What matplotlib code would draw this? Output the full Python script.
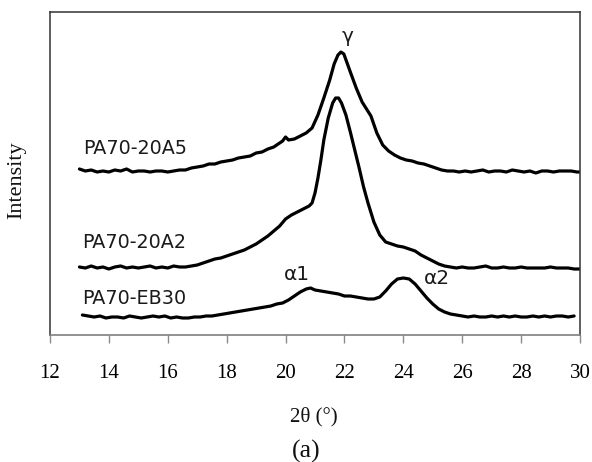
import matplotlib
matplotlib.use("Agg")
import matplotlib.pyplot as plt

# ---- data ----
x_a5 = [13.0,13.2,13.4,13.6,13.8,14.0,14.2,14.4,14.6,14.8,15.0,15.2,15.4,15.6,15.8,16.0,16.2,16.4,16.6,16.8,
        17.0,17.2,17.4,17.6,17.8,18.0,18.2,18.4,18.6,18.8,19.0,19.2,19.4,19.6,19.8,
        19.9,20.0,20.1,
        20.3,20.5,20.7,20.9,21.1,21.3,21.5,21.65,
        21.78,21.88,21.98,
        22.2,22.4,22.6,22.75,22.9,
        23.1,23.3,23.5,23.7,23.9,24.1,24.3,24.5,24.7,24.9,25.1,25.3,25.5,25.7,25.9,26.1,26.3,26.5,26.7,26.9,
        27.1,27.3,27.5,27.7,27.9,28.1,28.3,28.5,28.7,28.9,29.1,29.3,29.5,29.7,29.9,30.0]
y_a5 = [166,164,165,163,164,163,165,164,166,163,164,164,163,164,164,163,164,165,165,167,
        168,169,171,171,173,174,175,177,178,179,182,183,186,188,192,
        194,198,195,
        196,199,202,207,220,237,255,271,
        280,283,281,
        263,247,233,226,219,
        202,190,184,180,177,175,174,172,171,169,167,165,164,164,163,164,163,164,165,163,
        164,164,163,165,164,163,164,162,164,164,163,164,164,164,163,163]

x_a2 = [13.0,13.2,13.4,13.6,13.8,14.0,14.2,14.4,14.6,14.8,15.0,15.2,15.4,15.6,15.8,16.0,16.2,16.4,16.6,16.8,
        17.0,17.2,17.4,17.6,17.8,18.0,18.2,18.4,18.6,18.8,19.0,19.2,19.4,19.6,19.8,20.0,20.2,20.4,20.6,
        20.8,20.9,21.0,21.1,21.2,21.3,21.45,21.6,21.7,21.8,21.9,22.05,22.2,22.35,22.5,22.65,22.8,
        23.0,23.2,23.4,23.6,23.8,24.0,24.2,24.4,24.6,24.8,25.0,25.2,25.4,25.6,
        25.8,26.0,26.2,26.4,26.6,26.8,27.0,27.2,27.4,27.6,27.8,28.0,28.2,28.4,28.6,28.8,29.0,29.2,29.4,29.6,29.8,30.0]
y_a2 = [68,67,69,67,68,66,68,69,67,68,67,68,69,67,68,67,69,68,68,69,
        70,72,74,76,77,79,81,83,85,88,91,95,99,104,109,116,120,123,126,
        129,132,142,157,175,195,217,232,237,237,232,220,203,185,167,148,132,
        113,100,93,91,89,88,86,84,80,77,74,71,69,68,
        67,68,67,67,68,69,67,67,68,67,67,68,67,67,67,67,68,67,67,67,66,66]

x_eb = [13.1,13.3,13.5,13.7,13.9,14.1,14.3,14.5,14.7,14.9,15.1,15.3,15.5,15.7,15.9,16.1,16.3,16.5,16.7,16.9,
        17.1,17.3,17.5,17.7,17.9,
        18.1,18.3,18.5,18.7,18.9,19.1,19.3,19.5,19.7,19.9,20.1,20.3,20.5,20.7,20.85,
        21.0,21.2,21.4,21.6,21.8,22.0,22.2,22.4,22.6,22.8,23.0,23.2,23.4,23.6,23.8,24.0,24.2,24.4,24.6,24.8,
        25.0,25.2,25.4,25.6,25.8,
        26.0,26.2,26.4,26.6,26.8,27.0,27.2,27.4,27.6,27.8,28.0,28.2,28.4,28.6,28.8,29.0,29.2,29.4,29.6,29.8]
y_eb = [20,19,18,19,17,18,18,17,19,18,17,18,19,18,19,17,18,17,17,18,
        18,19,19,20,21,
        22,23,24,25,26,27,28,29,31,32,35,39,43,46,47,
        45,44,43,42,41,39,39,38,37,36,36,38,44,51,56,57,56,51,44,37,
        31,26,23,21,20,
        19,18,19,18,18,19,18,19,18,19,18,18,19,18,19,18,19,19,18,19]

series_labels = ["PA70-20A5", "PA70-20A2", "PA70-EB30"]
peak_labels = ["\u03b3", "\u03b11", "\u03b12"]
x_ticks = [12, 14, 16, 18, 20, 22, 24, 26, 28, 30]

# ---- figure ----
fig = plt.figure(figsize=(5.92, 4.62), dpi=100)
ax = fig.add_axes([50/592, 1 - 335/462, 530/592, 323/462])

lw = 2.3
for xs, ys in [(x_a5, y_a5), (x_a2, y_a2), (x_eb, y_eb)]:
    ax.plot(xs, ys, color="black", lw=lw, solid_joinstyle="round", solid_capstyle="round")

ax.set_xlim(12, 30)
ax.set_ylim(0, 323)
ax.set_xticks(x_ticks)
ax.set_xticklabels([str(t) for t in x_ticks])
ax.set_yticks([])

for side in ["left", "top", "right"]:
    ax.spines[side].set_color("#333333")
    ax.spines[side].set_linewidth(1.1)
ax.spines["bottom"].set_color("#7f7f7f")
ax.spines["bottom"].set_linewidth(1.2)
ax.tick_params(axis="x", direction="out", length=6, width=1, color="#8a8a8a",
               pad=15, labelsize=15)
for lab in ax.get_xticklabels():
    lab.set_fontfamily("Liberation Serif")

# series labels
lab_font = dict(family="DejaVu Sans", fontsize=13.8, color="#1a1a1a", ha="left", va="center")
ax.text(13.12, 187, series_labels[0], **lab_font)
ax.text(13.09, 92, series_labels[1], **lab_font)
ax.text(13.09, 37, series_labels[2], **lab_font)

# peak labels
pk_font = dict(family="DejaVu Sans", fontsize=14.5, color="#1a1a1a", ha="center", va="center")
ax.text(22.09, 298, peak_labels[0], **pk_font)
ax.text(20.39, 60, peak_labels[1], **pk_font)
ax.text(25.15, 56, peak_labels[2], **pk_font)

# axis labels
fig.text(17/592, 1 - 180/462, "Intensity", rotation=90, ha="center", va="center",
         family="Liberation Serif", fontsize=16, color="#111111")
fig.text(314/592, 1 - 417/462, "2\u03b8 (\u00b0)", ha="center", va="center",
         family="Liberation Serif", fontsize=15, color="#111111")
fig.text(306/592, 1 - 451/462, "(a)", ha="center", va="center",
         family="Liberation Serif", fontsize=18.5, color="#111111")

fig.savefig("out.png", dpi=100)
